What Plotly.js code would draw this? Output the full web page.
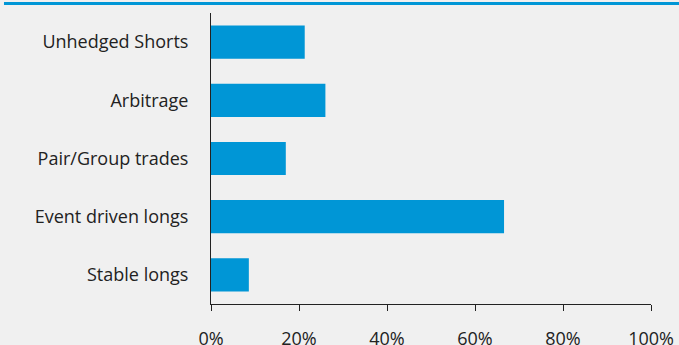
<!DOCTYPE html>
<html>
<head>
<script src="https://cdn.plot.ly/plotly-3.0.1.min.js"></script>
<style>html,body{margin:0;padding:0;background:#f0f0f0;}#chart{width:679px;height:345px;}</style>
</head>
<body>
<div id="chart"></div>
<script>
const categories = ["Stable longs", "Event driven longs", "Pair/Group trades", "Arbitrage", "Unhedged Shorts"];
const values = [8.6, 66.6, 17.0, 26.0, 21.3];
const tickVals = [0, 20, 40, 60, 80, 100];
const tickText = ["0%", "20%", "40%", "60%", "80%", "100%"];

const trace = {
  type: 'bar',
  orientation: 'h',
  y: categories,
  x: values,
  marker: {color: '#0096d6'},
  hoverinfo: 'none'
};

const layout = {
  width: 679, height: 345,
  paper_bgcolor: '#f0f0f0', plot_bgcolor: '#f0f0f0',
  margin: {l: 211, r: 28, t: 13, b: 41},
  bargap: 0.43,
  showlegend: false,
  font: {family: 'Open Sans, sans-serif', size: 18, color: '#222'},
  xaxis: {
    range: [0, 100], tickvals: tickVals, ticktext: tickText,
    showgrid: false, zeroline: false, showline: true, linecolor: '#222', linewidth: 1,
    ticks: 'outside', ticklen: 6, tickcolor: '#222', tickwidth: 1,
    ticklabelstandoff: 12,
    tickfont: {size: 18, color: '#222'}, fixedrange: true
  },
  yaxis: {
    type: 'category', range: [-0.5, 4.5],
    showgrid: false, zeroline: false, showline: true, linecolor: '#222', linewidth: 1,
    ticks: '', ticklabelstandoff: 18,
    tickfont: {size: 18, color: '#222'}, fixedrange: true
  },
  shapes: [{
    type: 'line', xref: 'paper', yref: 'paper',
    x0: -0.4705, x1: 1.07, y0: 1.0326, y1: 1.0326,
    line: {color: '#0096d6', width: 3}
  }]
};

Plotly.newPlot('chart', [trace], layout, {staticPlot: true, displayModeBar: false});
</script>
</body>
</html>
